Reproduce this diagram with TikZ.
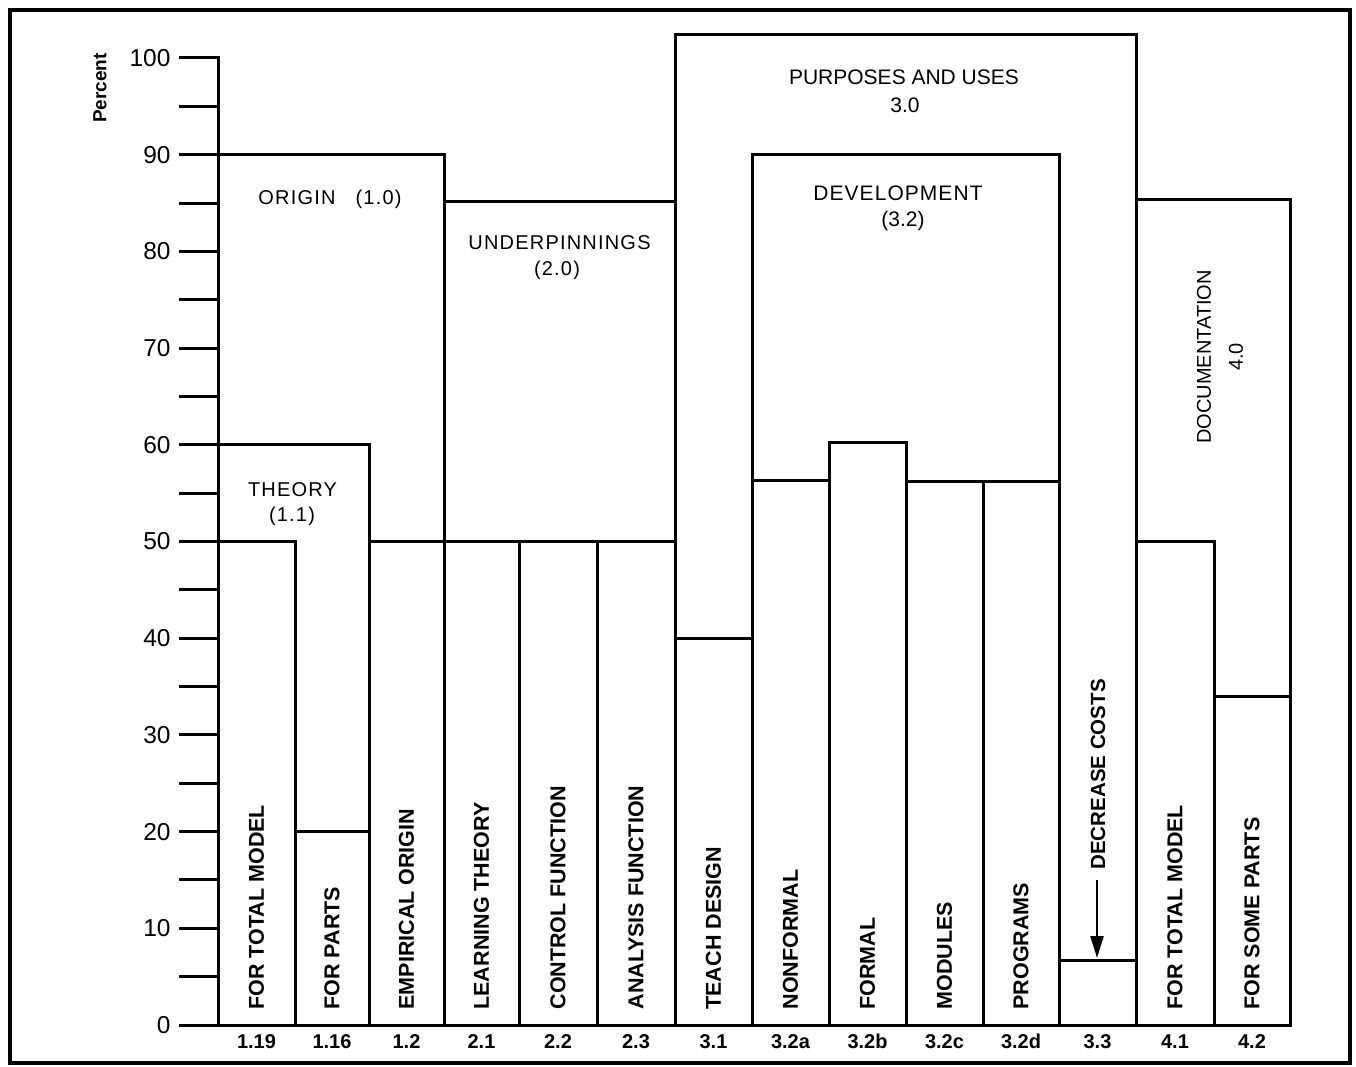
\documentclass[tikz,border=0pt]{standalone}
\usepackage{fontspec}
\setmainfont{Liberation Sans}
\usetikzlibrary{arrows.meta}
\begin{document}
\begin{tikzpicture}[x=1pt,y=-1pt,line width=3pt,line cap=rect,
  collbl/.style={rotate=90,anchor=west,inner sep=0pt,font=\bfseries\fontsize{21.5}{26}\selectfont},
  colnum/.style={anchor=base,inner sep=0pt,font=\bfseries\fontsize{20}{24}\selectfont},
  axnum/.style={anchor=east,inner sep=0pt,font=\fontsize{24.5}{28}\selectfont},
  head/.style={inner sep=0pt,font=\fontsize{20}{24}\selectfont\addfontfeature{LetterSpace=6}},
  bighead/.style={inner sep=0pt,font=\fontsize{21}{25}\selectfont},
  arrowline/.style={line width=2.5pt,line cap=butt,-{Triangle[length=22pt,width=13pt]}}
]
\useasboundingbox (0,0) rectangle (1356,1067);
% frame
\draw[line width=4.5pt] (10,10) rectangle (1350,1063);
% y axis
\node[rotate=90,inner sep=0pt,font=\bfseries\fontsize{19}{23}\selectfont] (ylab) at (100,88) {Percent};
\draw (218,1025) -- (218,58);
\foreach \p in {0,5,...,100} \draw (180,{1025-9.67*\p}) -- (218,{1025-9.67*\p});
\foreach \p in {0,10,...,100} \node[axnum] (n\p) at (172,{1025-9.67*\p}) {\p};
% group boxes
\draw (218,1025) |- (444,154.7) -- (444,1025);
\draw (218,1025) |- (369,444.8) -- (369,1025);
\draw (444,1025) |- (675,202) -- (675,1025);
\draw (675,1025) |- (1136,35) -- (1136,1025);
\draw (752,1025) |- (1059,154.7) -- (1059,1025);
\draw (1136,1025) |- (1290,200) -- (1290,1025);
% bars
\foreach \a/\b/\t in {218/295/541.5, 295/369/831.6, 369/444/541.5, 444/519/541.5, 519/597/541.5, 597/675/541.5, 675/752/638.2, 752/829/480, 829/906/442, 906/983/481, 983/1059/481, 1059/1136/960, 1136/1214/541.5, 1214/1290/696}
  \draw (\a,1025) |- (\b,\t) -- (\b,1025);
% baseline
\draw (180,1025) -- (1290,1025);
% group headings
\node[head] (origin) at (330,199.5) {ORIGIN\hspace{20pt}(1.0)};
\node[head] (theory) at (292.5,489.5) {THEORY};
\node[head] (theoryn) at (292,516) {(1.1)};
\node[head] (under) at (559.5,243) {UNDERPINNINGS};
\node[head] (undern) at (557,270) {(2.0)};
\node[bighead] (purp) at (904,77) {PURPOSES AND USES};
\node[bighead] (purpn) at (905,105) {3.0};
\node[bighead,font=\fontsize{21}{25}\selectfont\addfontfeature{LetterSpace=5}] (dev) at (898,193.5) {DEVELOPMENT};
\node[bighead] (devn) at (903,221.5) {(3.2)};
\node[rotate=90,inner sep=0pt,align=center,font=\fontsize{20}{32}\selectfont] (doc) at (1220,357) {DOCUMENTATION\\4.0};
% column labels
\node[collbl] (c1) at (256.5,1011) {FOR TOTAL MODEL};
\node[collbl] (c2) at (332,1011) {FOR PARTS};
\node[collbl] (c3) at (406.5,1011) {EMPIRICAL ORIGIN};
\node[collbl] (c4) at (481.5,1011) {LEARNING THEORY};
\node[collbl] (c5) at (558,1011) {CONTROL FUNCTION};
\node[collbl] (c6) at (636,1011) {ANALYSIS FUNCTION};
\node[collbl] (c7) at (713.5,1011) {TEACH DESIGN};
\node[collbl] (c8) at (790.5,1011) {NONFORMAL};
\node[collbl] (c9) at (867.5,1011) {FORMAL};
\node[collbl] (c10) at (944.5,1011) {MODULES};
\node[collbl] (c11) at (1021,1011) {PROGRAMS};
\node[collbl] (c13) at (1175,1011) {FOR TOTAL MODEL};
\node[collbl] (c14) at (1252,1011) {FOR SOME PARTS};
\node[collbl,font=\bfseries\fontsize{20.5}{25}\selectfont] (dc) at (1098,871) {DECREASE COSTS};
\coordinate (dcs) at (1097,880);
\coordinate (dct) at (1097,958);
\draw[arrowline] (dcs) -- (dct);
% column numbers
\foreach \x/\t [count=\i] in {256.5/1.19, 332/1.16, 406.5/1.2, 481.5/2.1, 558/2.2, 636/2.3, 713.5/3.1, 790.5/3.2a, 867.5/3.2b, 944.5/3.2c, 1021/3.2d, 1097.5/3.3, 1175/4.1, 1252/4.2}
  \node[colnum] (k\i) at (\x,1048) {\t};
\end{tikzpicture}
\end{document}
